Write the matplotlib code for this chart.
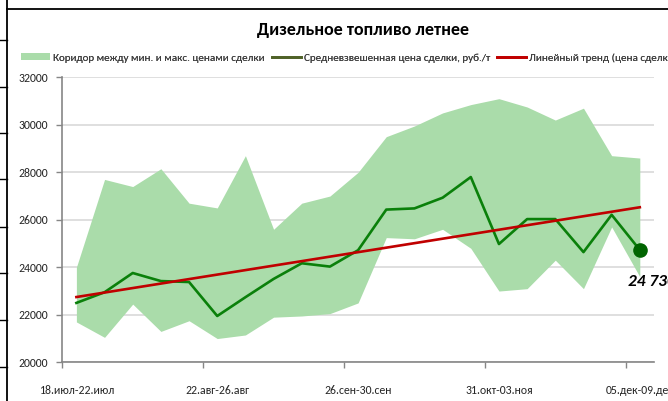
import numpy as np
import matplotlib
matplotlib.use('Agg')
import matplotlib.pyplot as plt
from matplotlib import font_manager
from matplotlib.lines import Line2D
from matplotlib.patches import Patch

# weeks (Mon-Fri), 2016
weeks = ['18.июл-22.июл', '25.июл-29.июл', '01.авг-05.авг', '08.авг-12.авг', '15.авг-19.авг',
         '22.авг-26.авг', '29.авг-02.сен', '05.сен-09.сен', '12.сен-16.сен', '19.сен-23.сен',
         '26.сен-30.сен', '03.окт-07.окт', '10.окт-14.окт', '17.окт-21.окт', '24.окт-28.окт',
         '31.окт-03.ноя', '07.ноя-11.ноя', '14.ноя-18.ноя', '21.ноя-25.ноя', '28.ноя-02.дек',
         '05.дек-09.дек']

price_max = [24000, 27700, 27400, 28150, 26700, 26500, 28700, 25600, 26700, 27000, 28000,
             29500, 29950, 30500, 30850, 31100, 30750, 30200, 30700, 28700, 28600]
price_min = [21700, 21050, 22450, 21300, 21750, 21000, 21150, 21900, 21950, 22050, 22500,
             25250, 25200, 25600, 24800, 23000, 23100, 24300, 23100, 25700, 23600]
price_avg = [22500, 22950, 23760, 23420, 23380, 21950, 22740, 23510, 24170, 24030, 24720,
             26430, 26480, 26930, 27800, 24980, 26030, 26030, 24640, 26210, 24730]

names = {f.name for f in font_manager.fontManager.ttflist}
base = 'Roboto'
for cand in ['Carlito', 'Liberation Sans Narrow']:
    if cand in names:
        base = cand
        break
plt.rcParams['font.family'] = [base, 'DejaVu Sans']

fill_col = '#aadcaa'
avg_col = '#0a800a'
trend_col = '#c00000'
grey = '#868686'

x = np.arange(len(weeks))
k, b = np.polyfit(x, price_avg, 1)

fig = plt.figure(figsize=(6.68, 4.01), dpi=100)
ax = fig.add_axes([62.3/668, 1-362.3/401, 591.6/668, 285/401])

ax.fill_between(x, price_min, price_max, color=fill_col, lw=0, zorder=2)
ax.plot(x, price_avg, color=avg_col, lw=1.9, zorder=3)
ax.plot(x, k*x + b, color=trend_col, lw=1.9, zorder=4)
ax.plot(x[-1], price_avg[-1], 'o', color='#006400', ms=9.5, zorder=5)
ax.annotate(f'{price_avg[-1]:,}'.replace(',', ' '), (x[-1], price_avg[-1]),
            xytext=(-8.5, -23), textcoords='offset points', ha='left', va='center',
            fontsize=12.5, fontweight='bold', fontstyle='italic', color='black', zorder=6)

ax.set_xlim(-0.5, len(weeks)-0.5)
ax.set_ylim(20000, 32000)
ax.set_yticks(range(20000, 32001, 2000))
ax.yaxis.grid(True, color='#d9d9d9', lw=1.2, zorder=0)
ax.set_axisbelow(True)

ax.set_xticks(np.arange(-0.5, len(weeks), 5))
ax.set_xticklabels([])
ax.set_xticks(x[::5], minor=True)
ax.set_xticklabels(weeks[::5], minor=True)
ax.tick_params(axis='x', which='major', length=4, color=grey, width=1)
ax.tick_params(axis='x', which='minor', length=0, pad=16, labelsize=8.5, labelcolor='#262626')
ax.tick_params(axis='y', length=4, color=grey, width=1, labelsize=8.5, labelcolor='#262626', pad=6)

for s in ['top', 'right']:
    ax.spines[s].set_visible(False)
for s in ['left', 'bottom']:
    ax.spines[s].set_color(grey)
    ax.spines[s].set_linewidth(1.2)

fig.text(363/668, 1-30/401, 'Дизельное топливо летнее', ha='center', va='center',
         fontsize=13, fontweight='bold', color='black')

handles = [Patch(facecolor=fill_col, edgecolor='none'),
           Line2D([], [], color='#4f6228', lw=2),
           Line2D([], [], color=trend_col, lw=2)]
labels = ['Коридор между мин. и макс. ценами сделки',
          'Средневзвешенная цена сделки, руб./т',
          'Линейный тренд (цена сделки)']
# one legend per entry so each starts where it does in the original
for h, lab, px in zip(handles, labels, [21, 272, 497]):
    leg = fig.legend([h], [lab], loc='center left', bbox_to_anchor=(px/668, 1-58/401),
                     frameon=False, fontsize=8, handlelength=2.6, handleheight=0.6,
                     handletextpad=0.25, borderpad=0, borderaxespad=0,
                     labelcolor='#404040')
    fig.add_artist(leg)

# sheet cell borders around the chart
fig.add_artist(Line2D([7/668, 7/668], [0, 1], transform=fig.transFigure, color='black', lw=1.3))
fig.add_artist(Line2D([7/668, 1], [1-8.5/401, 1-8.5/401], transform=fig.transFigure, color='black', lw=1.3))
for yy in [40, 87, 133, 179, 227, 273, 320, 367]:
    fig.add_artist(Line2D([0, 7/668], [1-yy/401, 1-yy/401], transform=fig.transFigure, color='black', lw=1.0))

fig.savefig('out.png', dpi=100)
